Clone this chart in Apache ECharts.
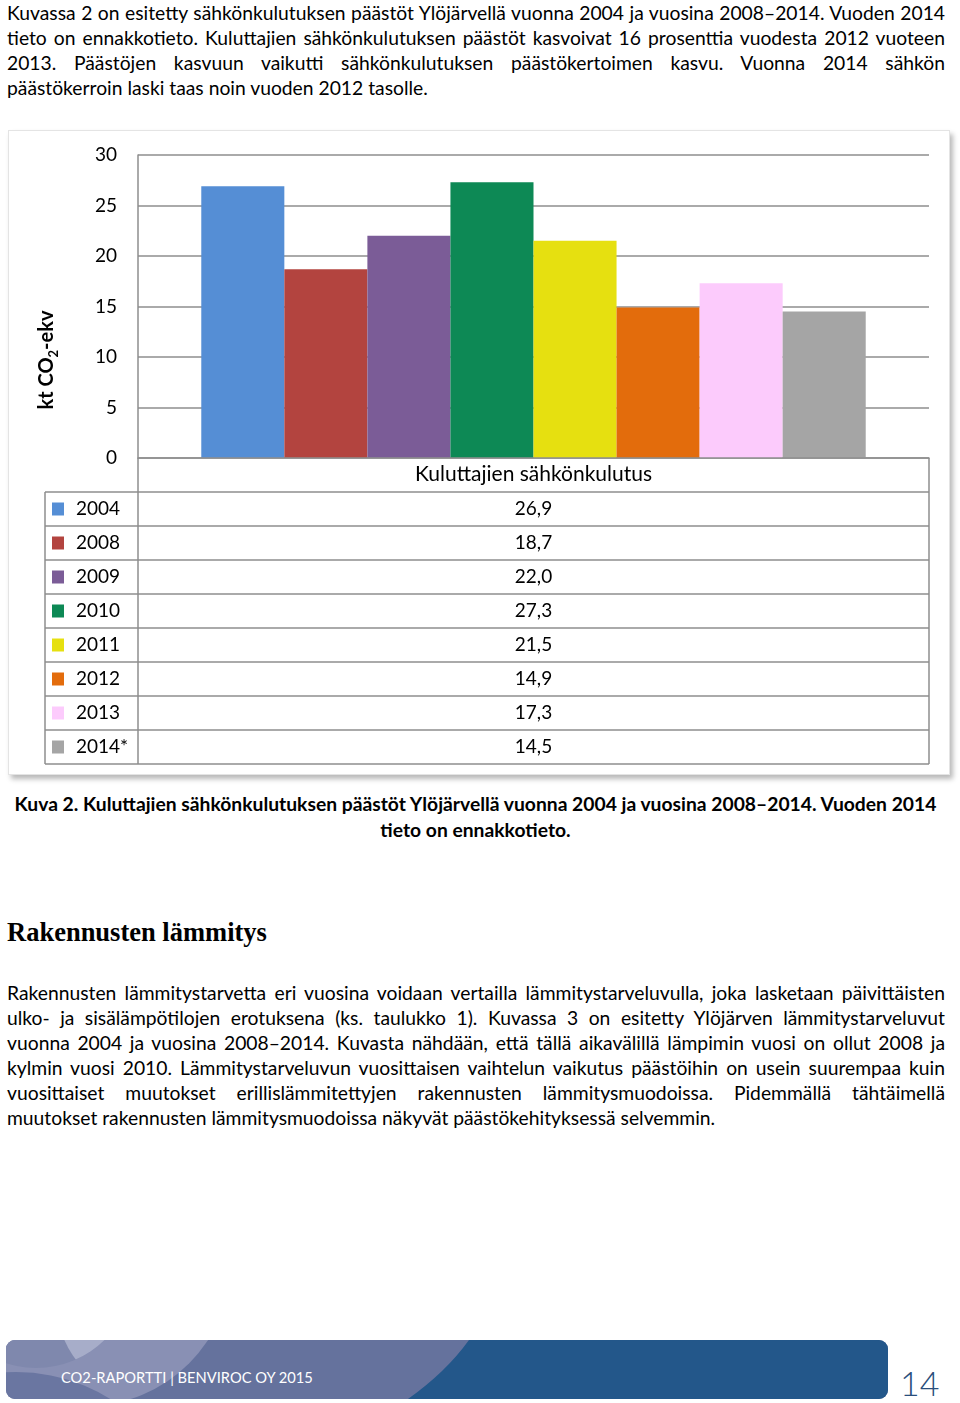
<!DOCTYPE html>
<html><head><meta charset="utf-8">
<script src="https://cdn.jsdelivr.net/npm/echarts@6.0.0/dist/echarts.min.js"></script>
<style>
html,body{margin:0;padding:0;background:#fff;}
body{width:960px;height:1403px;position:relative;overflow:hidden;font-family:Lato,'Noto Sans',sans-serif;color:#000;}
.ln{position:absolute;left:7px;width:938px;font-size:19.3px;line-height:25px;height:25px;white-space:nowrap;}
.cap{position:absolute;left:0;width:951px;text-align:center;font-weight:bold;font-size:19.3px;line-height:25px;height:25px;white-space:nowrap;}
#chartbox{position:absolute;left:8px;top:130px;width:942px;height:645px;background:#fff;border:1px solid #e4e4e4;box-sizing:border-box;box-shadow:3px 4px 5px rgba(0,0,0,0.28);}
#chart{position:absolute;left:0;top:0;width:942px;height:645px;}
h2{position:absolute;left:7px;top:916px;margin:0;font-family:'Liberation Serif','DejaVu Serif',serif;font-weight:bold;font-size:26.5px;line-height:32px;white-space:nowrap;}
#banner{position:absolute;left:6px;top:1340px;width:882px;height:59px;border-radius:9px;overflow:hidden;}
#banner svg{display:block;}
#foot{position:absolute;left:61px;top:1367px;font-size:14.7px;line-height:20px;color:#fff;white-space:nowrap;}
#pnum{position:absolute;left:900px;top:1363px;font-size:34px;line-height:40px;color:#2A4E7C;font-weight:300;}
</style></head>
<body>
<div class="ln j" style="top:0px"><span>Kuvassa 2 on esitetty sähkönkulutuksen päästöt Ylöjärvellä vuonna 2004 ja vuosina 2008–2014. Vuoden 2014</span></div>
<div class="ln j" style="top:25px"><span>tieto on ennakkotieto. Kuluttajien sähkönkulutuksen päästöt kasvoivat 16 prosenttia vuodesta 2012 vuoteen</span></div>
<div class="ln j" style="top:50px"><span>2013. Päästöjen kasvuun vaikutti sähkönkulutuksen päästökertoimen kasvu. Vuonna 2014 sähkön</span></div>
<div class="ln" style="top:75px"><span>päästökerroin laski taas noin vuoden 2012 tasolle.</span></div>

<div id="chartbox"><div id="chart"></div></div>

<div class="cap" style="top:791px">Kuva 2. Kuluttajien sähkönkulutuksen päästöt Ylöjärvellä vuonna 2004 ja vuosina 2008–2014. Vuoden 2014</div>
<div class="cap" style="top:817px">tieto on ennakkotieto.</div>

<h2>Rakennusten lämmitys</h2>

<div class="ln j" style="top:980px"><span>Rakennusten lämmitystarvetta eri vuosina voidaan vertailla lämmitystarveluvulla, joka lasketaan päivittäisten</span></div>
<div class="ln j" style="top:1005px"><span>ulko- ja sisälämpötilojen erotuksena (ks. taulukko 1). Kuvassa 3 on esitetty Ylöjärven lämmitystarveluvut</span></div>
<div class="ln j" style="top:1030px"><span>vuonna 2004 ja vuosina 2008–2014. Kuvasta nähdään, että tällä aikavälillä lämpimin vuosi on ollut 2008 ja</span></div>
<div class="ln j" style="top:1055px"><span>kylmin vuosi 2010. Lämmitystarveluvun vuosittaisen vaihtelun vaikutus päästöihin on usein suurempaa kuin</span></div>
<div class="ln j" style="top:1080px"><span>vuosittaiset muutokset erillislämmitettyjen rakennusten lämmitysmuodoissa. Pidemmällä tähtäimellä</span></div>
<div class="ln" style="top:1105px"><span>muutokset rakennusten lämmitysmuodoissa näkyvät päästökehityksessä selvemmin.</span></div>

<div id="banner">
<svg width="882" height="59" viewBox="0 0 882 59">
<defs><clipPath id="cF"><circle cx="150" cy="-40" r="100"/></clipPath></defs>
<rect width="882" height="59" fill="#65729D"/>
<circle cx="80" cy="-80" r="146" fill="#8990B4"/>
<circle cx="10" cy="210" r="178" fill="#6A76A1"/>
<circle cx="30" cy="-70" r="98" fill="#7F88AD"/>
<circle cx="30" cy="-70" r="98" fill="#A7ADC9" clip-path="url(#cF)"/>
<path d="M463,0 L882,0 L882,59 L402,59 Q440,32 463,0 Z" fill="#23578A"/>
</svg>
</div>
<div id="foot">CO2-RAPORTTI | BENVIROC OY 2015</div>
<div id="pnum">14</div>

<script>
// ---- data ----
const categories = ['Kuluttajien sähkönkulutus'];
const years = ['2004', '2008', '2009', '2010', '2011', '2012', '2013', '2014*'];
const values = [26.9, 18.7, 22.0, 27.3, 21.5, 14.9, 17.3, 14.5];
const yMin = 0, yMax = 30, yStep = 5;
const axisTitleMain = 'kt CO';
const axisTitleSub = '2';
const axisTitleEnd = '-ekv';

// ---- style ----
const palette = ['#558ED5', '#B3443F', '#7B5C97', '#0D8955', '#E6E010', '#E36C0C', '#FCCBFC', '#A5A5A5'];
const lineCol = '#8e8e8e';
const FONT = 'Lato';

// justify text lines
document.querySelectorAll('.j').forEach(function (d) {
  const s = d.querySelector('span');
  const w = s.getBoundingClientRect().width;
  const n = (s.textContent.match(/ /g) || []).length;
  if (n) s.style.wordSpacing = ((938 - w) / n) + 'px';
});

// layout (chart-local pixels)
const G = { left: 129, right: 22, top: 24, bottom: 318 };
const W = 942, H = 645;
const gridR = W - G.right;          // 920
const axisY = H - G.bottom;         // 327
const rowH = 34;
const tableLeft = 36;
const rowsTop = axisY + rowH;
const tableBottom = rowsTop + years.length * rowH;

const fmt = v => v.toFixed(1).replace('.', ',');

const graphics = [];
function gline(x1, y1, x2, y2) {
  graphics.push({ type: 'line', silent: true, z: 10,
    shape: { x1: x1, y1: y1, x2: x2, y2: y2 },
    style: { stroke: lineCol, lineWidth: 1.5 } });
}
// table frame
gline(G.left, axisY, G.left, tableBottom);
gline(gridR, axisY, gridR, tableBottom);
gline(tableLeft, rowsTop, tableLeft, tableBottom);
for (let i = 0; i <= years.length; i++) gline(tableLeft, rowsTop + i * rowH, gridR, rowsTop + i * rowH);
years.forEach(function (yr, i) {
  const cy = rowsTop + i * rowH + rowH / 2;
  graphics.push({ type: 'rect', silent: true, z: 11,
    shape: { x: 43, y: cy - 6.5, width: 12, height: 13 },
    style: { fill: palette[i] } });
  graphics.push({ type: 'text', silent: true, z: 11, x: 67, y: cy,
    style: { text: yr, fontSize: 19, fontFamily: FONT, fill: '#000', align: 'left', verticalAlign: 'middle' } });
  graphics.push({ type: 'text', silent: true, z: 11, x: (G.left + gridR) / 2, y: cy,
    style: { text: fmt(values[i]), fontSize: 19, fontFamily: FONT, fill: '#000', align: 'center', verticalAlign: 'middle' } });
});
// y axis title
graphics.push({ type: 'text', silent: true, z: 11, x: 38, y: 229, rotation: Math.PI / 2,
  style: {
    text: '{a|' + axisTitleMain + '}{s|' + axisTitleSub + '}{a|' + axisTitleEnd + '}',
    align: 'center', verticalAlign: 'middle',
    rich: {
      a: { fontSize: 20, fontWeight: 'bold', fontFamily: FONT, fill: '#000', lineHeight: 26 },
      s: { fontSize: 13, fontWeight: 'bold', fontFamily: FONT, fill: '#000', lineHeight: 14, verticalAlign: 'bottom' }
    }
  } });

const chart = echarts.init(document.getElementById('chart'), null, { width: W, height: H });
chart.setOption({
  animation: false,
  backgroundColor: 'transparent',
  textStyle: { fontFamily: FONT },
  grid: { left: G.left, right: G.right, top: G.top, bottom: G.bottom, containLabel: false },
  xAxis: {
    type: 'category', data: categories,
    axisLine: { show: true, lineStyle: { color: lineCol, width: 1.5 } },
    axisTick: { show: false },
    axisLabel: { color: '#000', fontSize: 21, fontFamily: FONT, margin: 6 },
    z: 5
  },
  yAxis: {
    type: 'value', min: yMin, max: yMax, interval: yStep,
    axisLine: { show: true, lineStyle: { color: lineCol, width: 1.5 } },
    axisTick: { show: false },
    axisLabel: { color: '#000', fontSize: 19, fontFamily: FONT, margin: 21 },
    splitLine: { show: true, lineStyle: { color: lineCol, width: 1.5 } }
  },
  series: years.map(function (yr, i) {
    return {
      type: 'bar', name: yr, data: [values[i]],
      barGap: '0%', barCategoryGap: '16%',
      itemStyle: { color: palette[i] },
      z: 3
    };
  }),
  graphic: graphics
});
</script>
</body></html>
